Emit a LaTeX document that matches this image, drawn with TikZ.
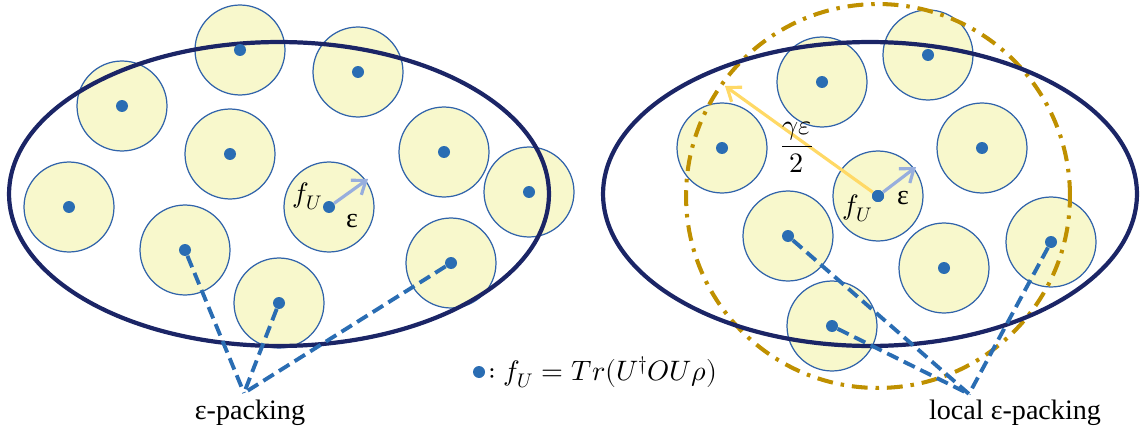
\documentclass[tikz,border=0pt]{standalone}
\usepackage{fontspec}
\usepackage{unicode-math}
\setmainfont{Liberation Serif}
\usepackage{tikz}
\usetikzlibrary{arrows.meta}
\definecolor{azulescuro}{HTML}{1B2566}
\definecolor{amareloclaro}{HTML}{F8F8CC}
\definecolor{azulborda}{HTML}{3063AA}
\definecolor{azulponto}{HTML}{2A6DB3}
\definecolor{ouro}{HTML}{BF9000}
\definecolor{amarelo}{HTML}{FFD966}
\definecolor{azulclaro}{HTML}{97AEDD}

\begin{document}
\begin{tikzpicture}[
    x=0.02cm, y=-0.02cm,
    font=\fontsize{16pt}{19pt}\selectfont,
    bolha/.style={circle, draw=azulborda, line width=0.7pt, fill=amareloclaro,
                  minimum size=1.8cm, inner sep=0pt},
    ponto/.style={circle, fill=azulponto, minimum size=0.24cm, inner sep=0pt},
    contorno/.style={line width=2.4pt, azulescuro},
    ligacao/.style={line width=2.2pt, azulponto, dash pattern=on 7pt off 3.5pt},
    vizinhanca/.style={line width=2.3pt, ouro, dash pattern=on 9pt off 4.5pt on 2pt off 4.5pt},
    seta/.style={-{Straight Barb[length=2.4mm, width=3.6mm]}, line width=1.8pt}
]
    \useasboundingbox (0,0) rectangle (1146,439);

    % bolhas do empacotamento
    \foreach \nome/\x/\y in {e1/240/50, e2/358/72, e3/122/106, e4/230/154, e5/444/152,
                             e6/529/192, e7/69/207, e8/329/207, e9/185/250, e10/279/303,
                             e11/451/263,
                             d1/822/82, d2/928/55, d3/722/148, d4/982/148, d5/878/196,
                             d6/788/236, d7/944/268, d8/1051/242, d9/832/326}
        \node[bolha] (b\nome) at (\x,\y) {};

    % conjuntos
    \draw[vizinhanca] (878,196) circle [radius=3.84cm];
    \draw[contorno] (279,194) ellipse [x radius=5.4cm, y radius=3.04cm];
    \draw[contorno] (870,194) ellipse [x radius=5.34cm, y radius=3.04cm];

    \coordinate (pontaE) at (368,179);
    \coordinate (pontaD) at (916,167);
    \coordinate (raio) at (725,86);
    \coordinate (juntaE) at (244,393);
    \coordinate (juntaD) at (969,394);

    % centros
    \foreach \nome/\x/\y in {e1/240/50, e2/358/72, e3/122/106, e4/230/154, e5/444/152,
                             e6/529/192, e7/69/207, e8/329/207, e9/185/250, e10/279/303,
                             e11/451/263,
                             d1/822/82, d2/928/55, d3/722/148, d4/982/148, d5/878/196,
                             d6/788/236, d7/944/268, d8/1051/242, d9/832/326}
        \node[ponto] (\nome) at (\x,\y) {};

    \draw[seta, amarelo] (d5) -- (raio);
    \draw[seta, azulclaro] (e8) -- (pontaE);
    \draw[seta, azulclaro] (d5) -- (pontaD);
    \node[ponto] at (878,196) {};

    \node (fe) at (308,196) {$f_U$};
    \node (epse) at (352,221) {ε};
    \node (fd) at (858,208) {$f_U$};
    \node (epsd) at (903,198) {ε};
    \node (gama) at (797,147) {$\dfrac{\gamma\varepsilon}{2}$};

    \draw[ligacao] (e9) -- (juntaE);
    \draw[ligacao] (e10) -- (juntaE);
    \draw[ligacao] (e11) -- (juntaE);
    \draw[ligacao] (d6) -- (juntaD);
    \draw[ligacao] (d9) -- (juntaD);
    \draw[ligacao] (d8) -- (juntaD);

    \node (rotuloE) at (250,413) {ε-packing};
    \node (rotuloD) at (1015,413) {local ε-packing};

    % legenda
    \node[ponto] (legponto) at (479,372) {};
    \node[anchor=west, inner sep=0pt] (legenda) at (488,372) {$:f_U=Tr(U^{\dagger}OU\rho)$};
\end{tikzpicture}
\end{document}
